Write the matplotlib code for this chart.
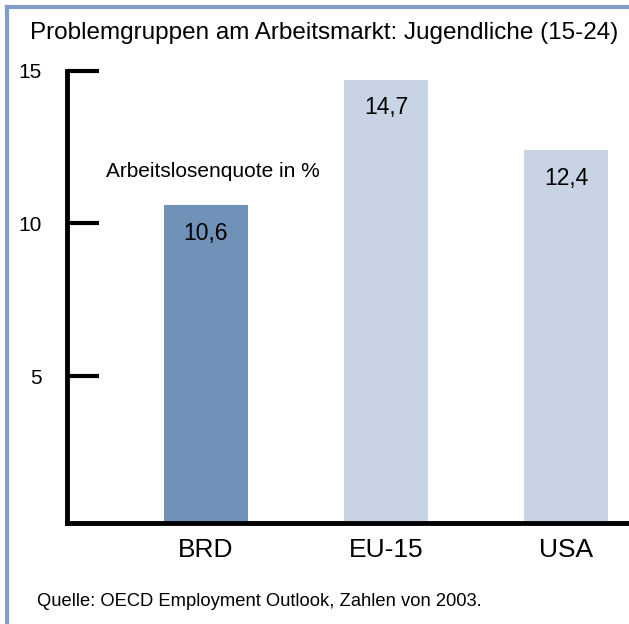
import matplotlib.pyplot as plt
from matplotlib.lines import Line2D

# data
regions = ['BRD', 'EU-15', 'USA']
youth_unemployment = [10.6, 14.7, 12.4]
value_labels = ['10,6', '14,7', '12,4']
bar_colors = ['#7092b8', '#c8d3e3', '#c8d3e3']
y_ticks = [5, 10, 15]

plt.rcParams['font.family'] = ['Liberation Sans', 'DejaVu Sans']

fig = plt.figure(figsize=(6.29, 6.24), dpi=100)
ax = fig.add_axes([67 / 629, 0.162, 1 - 67 / 629, 0.725])

x = range(len(regions))
ax.bar(x, youth_unemployment, width=0.467, color=bar_colors, zorder=2)

for xi, val, lab in zip(x, youth_unemployment, value_labels):
    ax.text(xi, val - 0.55, lab, ha='center', va='top', fontsize=16.5)

ax.set_xlim(-0.772, 2.35)
ax.set_ylim(0.2, 15)

# axes styling
for side in ['top', 'right']:
    ax.spines[side].set_visible(False)
for side in ['left', 'bottom']:
    ax.spines[side].set_linewidth(3.5)
    ax.spines[side].set_capstyle('projecting')

ax.set_yticks(y_ticks)
ax.set_yticklabels([str(t) for t in y_ticks], fontsize=15)
ax.tick_params(axis='y', direction='in', length=23, width=3, pad=18)
ax.set_xticks(list(x))
ax.set_xticklabels(regions, fontsize=19)
ax.tick_params(axis='x', length=0, pad=11)

ax.text(0.04, 11.7, 'Arbeitslosenquote in %', ha='center', va='center', fontsize=15)

fig.text(30 / 629, 1 - 33 / 624, 'Problemgruppen am Arbeitsmarkt: Jugendliche (15-24)',
         ha='left', va='center', fontsize=17.5)
fig.text(37 / 629, 1 - 601 / 624, 'Quelle: OECD Employment Outlook, Zahlen von 2003.',
         ha='left', va='center', fontsize=13.2)

# blue frame at top and left
frame_color = '#7f9fc8'
fig.add_artist(Line2D([7 / 629, 1], [1 - 7 / 624, 1 - 7 / 624], color=frame_color, lw=3,
                      transform=fig.transFigure))
fig.add_artist(Line2D([7 / 629, 7 / 629], [0, 1 - 7 / 624], color=frame_color, lw=3,
                      transform=fig.transFigure))

fig.savefig('out.png', dpi=100)
